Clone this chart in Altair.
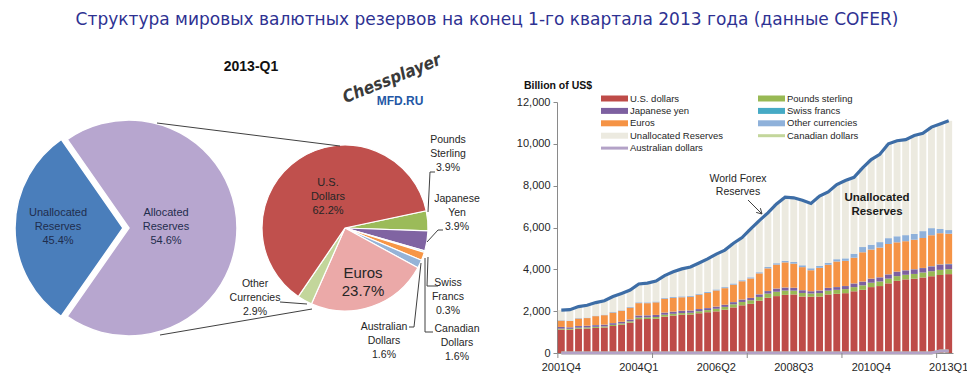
import math
import altair as alt
import pandas as pd

# ---------------- data ----------------
quarters = []
for yr in range(2001, 2014):
    for qq in range(1, 5):
        if (2001, 4) <= (yr, qq) <= (2013, 1):
            quarters.append(f"{yr}Q{qq}")

tick_labels = ["2001Q4", "2004Q1", "2006Q2", "2008Q3", "2010Q4", "2013Q1"]

total = [2050, 2070, 2220, 2280, 2410, 2500, 2700, 2850, 3010, 3300, 3340, 3440,
         3700, 3880, 4020, 4110, 4300, 4500, 4730, 4920, 5250, 5520, 5930, 6330,
         6700, 7130, 7450, 7420, 7300, 7150, 7500, 7700, 8050, 8250, 8400, 8850,
         9250, 9500, 10000, 10150, 10200, 10400, 10500, 10800, 10950, 11100]
usd = [1120, 1110, 1160, 1170, 1200, 1220, 1290, 1350, 1450, 1620, 1625, 1640,
       1740, 1790, 1830, 1840, 1900, 1950, 1990, 2070, 2180, 2280, 2350, 2500,
       2640, 2720, 2780, 2800, 2700, 2690, 2700, 2800, 2830, 2860, 2950, 3020,
       3150, 3200, 3330, 3450, 3520, 3550, 3610, 3670, 3730, 3770]
gbp = [43, 44, 50, 52, 51, 50, 55, 58, 64, 75, 78, 80, 90, 85, 80, 85, 95, 100,
       125, 135, 150, 160, 170, 180, 200, 210, 205, 180, 170, 150, 165, 180, 190,
       195, 200, 215, 210, 220, 225, 225, 220, 230, 240, 240, 245, 237]
jpy = [79, 72, 78, 76, 79, 83, 80, 85, 87, 95, 95, 98, 100, 100, 110, 105, 105,
       95, 100, 100, 100, 115, 110, 120, 120, 145, 140, 135, 130, 110, 120, 130,
       130, 145, 170, 175, 190, 195, 200, 210, 210, 220, 210, 230, 250, 237]
chf = [5, 5, 5, 6, 7, 5, 5, 5, 4, 4, 4, 4, 4, 4, 4, 4, 4, 5, 5, 5, 5, 5, 5, 7,
       7, 8, 8, 6, 5, 6, 6, 6, 5, 5, 6, 6, 7, 6, 6, 6, 5, 6, 7, 10, 12, 18]
eur = [301, 300, 355, 365, 425, 450, 500, 520, 560, 590, 580, 600, 660, 650, 640,
       650, 680, 720, 770, 790, 830, 870, 930, 1000, 1080, 1140, 1200, 1150, 1100,
       1000, 1080, 1100, 1220, 1200, 1230, 1400, 1390, 1420, 1450, 1400, 1390,
       1410, 1430, 1480, 1490, 1440]
other = [22, 20, 23, 23, 25, 27, 30, 30, 38, 40, 40, 40, 45, 45, 45, 45, 50, 55,
         50, 50, 60, 50, 55, 55, 65, 70, 75, 80, 90, 100, 90, 100, 110, 120, 190,
         250, 230, 260, 280, 290, 290, 280, 330, 340, 200, 176]
cad = [0, 0, 0, 0, 0, 0, 0, 0, 0, 0, 0, 0, 0, 0, 0, 0, 0, 0, 0, 0, 0, 0, 0, 0,
       0, 0, 0, 0, 0, 0, 0, 0, 0, 0, 0, 0, 0, 0, 0, 0, 0, 0, 0, 0, 95, 97]
aud = [0, 0, 0, 0, 0, 0, 0, 0, 0, 0, 0, 0, 0, 0, 0, 0, 0, 0, 0, 0, 0, 0, 0, 0,
       0, 0, 0, 0, 0, 0, 0, 0, 0, 0, 0, 0, 0, 0, 0, 0, 0, 0, 0, 0, 90, 97]

big_parts = ["Unallocated Reserves", "Allocated Reserves"]
big_values = [45.4, 54.6]

small_parts = ["Pounds Sterling", "Japanese Yen", "Swiss Francs", "Canadian Dollars",
               "Australian Dollars", "Euros", "Other Currencies", "U.S. Dollars"]
small_values = [3.9, 3.9, 0.3, 1.6, 1.6, 23.7, 2.9, 62.2]

# ---------------- styling ----------------
series = ["U.S. dollars", "Pounds sterling", "Japanese yen", "Swiss francs",
          "Euros", "Other currencies", "Unallocated Reserves"]
series_colors = ["#BE4B48", "#98B954", "#7D60A0", "#46AAC5", "#F59345", "#8FB1DA", "#ECEAE0"]
big_colors = ["#4A7EBB", "#B7A6CF"]
small_colors = ["#9BBB59", "#8064A2", "#4BACC6", "#F79646", "#95B3D7", "#EBA9A8", "#C3D69B", "#C0504D"]

LS = "Liberation Sans"
OX, OY = 557, 102          # page position of the bar plot origin
W, H = 396, 251


def px(x):
    return x - OX


def py(y):
    return y - OY


one = pd.DataFrame({"k": [0]})


def text(s, x, y, size=11, weight="normal", color="#262626", font=LS, angle=0, style="normal"):
    return alt.Chart(one).mark_text(
        text=s, fontSize=size, fontWeight=weight, color=color, font=font,
        align="center", baseline="middle", angle=angle, fontStyle=style,
    ).encode(x=alt.value(px(x)), y=alt.value(py(y)))


def mtext(lines, x, y0, dy=14, **kw):
    return [text(s, x, y0 + i * dy, **kw) for i, s in enumerate(lines)]


def seg(x1, y1, x2, y2, color="#404040", w=1):
    return alt.Chart(one).mark_rule(color=color, strokeWidth=w).encode(
        x=alt.value(px(x1)), y=alt.value(py(y1)),
        x2=alt.value(px(x2)), y2=alt.value(py(y2)))


def poly(pts, **kw):
    return [seg(pts[i][0], pts[i][1], pts[i + 1][0], pts[i + 1][1], **kw) for i in range(len(pts) - 1)]


def box(x1, y1, x2, y2, color):
    return alt.Chart(one).mark_rect(color=color).encode(
        x=alt.value(px(x1)), y=alt.value(py(y1)),
        x2=alt.value(px(x2)), y2=alt.value(py(y2)))


# ---------------- bar chart ----------------
rows = []
vals = [usd, gbp, jpy, chf, eur, other]
for i, q in enumerate(quarters):
    alloc = 0
    for k, name in enumerate(series[:-1]):
        rows.append({"q": q, "series": name, "value": vals[k][i], "ord": k})
        alloc += vals[k][i]
    rows.append({"q": q, "series": series[-1], "value": total[i] - alloc, "ord": 6})
bars_df = pd.DataFrame(rows)
line_df = pd.DataFrame({"q": quarters, "total": total, "cad": cad, "aud": aud})

xaxis = alt.Axis(values=tick_labels, labelAngle=0, title=None,
                 domainColor="#8A8A8A", tickColor="transparent", tickSize=5,
                 labelPadding=3, labelFont=LS, labelFontSize=11, labelColor="#262626")
yaxis = alt.Axis(values=list(range(0, 12001, 2000)), labelExpr="format(datum.value, ',')",
                 title=None, grid=False,
                 domainColor="#8A8A8A", tickColor="#8A8A8A", tickSize=4, labelPadding=3,
                 labelFont=LS, labelFontSize=11, labelColor="#262626")
xscale = alt.Scale(paddingInner=0.2, paddingOuter=0.1)
yscale = alt.Scale(domain=[0, 12000], nice=False)


def X(**kw):
    return alt.X("q:N", sort=quarters, scale=xscale, axis=xaxis, **kw)


def Y(field, **kw):
    return alt.Y(field, scale=yscale, axis=yaxis, **kw)


bars = alt.Chart(bars_df).mark_bar().encode(
    x=X(),
    y=Y("value:Q", stack="zero"),
    color=alt.Color("series:N", scale=alt.Scale(domain=series, range=series_colors), legend=None),
    order=alt.Order("ord:Q", sort="ascending"),
)
cad_line = alt.Chart(line_df).mark_line(color="#C3D69B", strokeWidth=3).encode(x=X(), y=Y("cad:Q"))
aud_line = alt.Chart(line_df).mark_line(color="#B3A2C7", strokeWidth=3).encode(x=X(), y=Y("aud:Q"))
total_line = alt.Chart(line_df).mark_line(color="#3D6DA6", strokeWidth=3.2).encode(x=X(), y=Y("total:Q"))

tick_df = pd.DataFrame({"q": [quarters[i] for i in range(0, len(quarters), 11)]})
xticks = alt.Chart(tick_df).mark_rule(color="#8A8A8A").encode(
    x=X(bandPosition=0), y=alt.value(H), y2=alt.value(H + 5))

# legend (manual, two columns)
leg = []
leg_names = ["U.S. dollars", "Pounds sterling", "Japanese yen", "Swiss francs", "Euros",
             "Other currencies", "Unallocated Reserves", "Canadian dollars", "Australian dollars"]
leg_cols = ["#BE4B48", "#98B954", "#7D60A0", "#46AAC5", "#F59345", "#8FB1DA", "#ECEAE0",
            "#C3D69B", "#B3A2C7"]
for i, (nm, cl) in enumerate(zip(leg_names, leg_cols)):
    col, row = i % 2, i // 2
    x0 = 601 + col * 157
    yc = 98.5 + row * 12.4
    hh = 1.5 if nm in ("Canadian dollars", "Australian dollars") else 3
    leg.append(box(x0, yc - hh, x0 + 27, yc + hh, cl))
    leg.append(alt.Chart(one).mark_text(text=nm, fontSize=9.5, font=LS, color="#262626",
                                        align="left", baseline="middle").encode(
        x=alt.value(px(x0 + 29)), y=alt.value(py(yc))))

# ---------------- pies ----------------
big_df = pd.DataFrame({"part": big_parts, "value": big_values, "ord": [0, 1]})
a0 = math.radians(215)


def big_layer(part, cx):
    return alt.Chart(big_df).transform_stack(
        stack="value", groupby=[], as_=["v0", "v1"], sort=[alt.SortField("ord", order="ascending")]
    ).transform_filter(alt.datum.part == part).mark_arc(
        radius=108, stroke="white", strokeWidth=1.5
    ).encode(
        theta=alt.Theta("v0:Q", scale=alt.Scale(type="pow", exponent=1.5, domain=[0, 100],
                                                 range=[a0, a0 + 2 * math.pi])),
        theta2="v1:Q",
        color=alt.Color("part:N", scale=alt.Scale(domain=big_parts, range=big_colors), legend=None),
        x=alt.value(px(cx)), y=alt.value(py(228)),
    )


small_df = pd.DataFrame({"part": small_parts, "value": small_values, "ord": list(range(8))})
b0 = math.radians(78)
small_pie = alt.Chart(small_df).transform_stack(
    stack="value", groupby=[], as_=["v0", "v1"], sort=[alt.SortField("ord", order="ascending")]
).mark_arc(radius=83, stroke="white", strokeWidth=1.2).encode(
    theta=alt.Theta("v0:Q", scale=alt.Scale(domain=[0, 100.1], range=[b0, b0 + 2 * math.pi])),
    theta2="v1:Q",
    color=alt.Color("part:N", scale=alt.Scale(domain=small_parts, range=small_colors), legend=None),
    x=alt.value(px(345)), y=alt.value(py(228)),
)

layers = [bars, cad_line, aud_line, total_line, xticks]
layers += leg
layers += [big_layer("Allocated Reserves", 129), big_layer("Unallocated Reserves", 123), small_pie]

# connector lines between pies
layers += [seg(157, 123, 340, 146), seg(160, 335, 312, 309)]
# leader lines
layers += poly([(435, 172), (430, 172), (428, 212)])
layers += poly([(443, 230), (438, 230), (427, 242)])
layers += poly([(428, 257), (427, 286), (438, 286)])
layers += poly([(425, 258), (425, 332), (433, 332)])
layers += poly([(421, 263), (414, 327), (409, 327)])
layers += poly([(280, 302), (307, 304)])

# pie labels
navy = "#1F2D4D"
layers += mtext(["Unallocated", "Reserves", "45.4%"], 58, 213, dy=14, color=navy)
layers += mtext(["Allocated", "Reserves", "54.6%"], 166, 213, dy=14, color=navy)
layers += mtext(["U.S.", "Dollars", "62.2%"], 328, 183, dy=14)
layers += mtext(["Euros", "23.7%"], 363, 273, dy=18, size=15)
layers += mtext(["Pounds", "Sterling", "3.9%"], 448, 140, dy=14, size=10.5)
layers += mtext(["Japanese", "Yen", "3.9%"], 457, 199, dy=14, size=10.5)
layers += mtext(["Swiss", "Francs", "0.3%"], 448, 283, dy=14, size=10.5)
layers += mtext(["Canadian", "Dollars", "1.6%"], 457, 329, dy=14, size=10.5)
layers += mtext(["Australian", "Dollars", "1.6%"], 384, 327, dy=14, size=10.5)
layers += mtext(["Other", "Currencies", "2.9%"], 255, 284, dy=14, size=10.5)
layers.append(text("2013-Q1", 251, 67, size=14, weight="bold", color="#111111"))
# logo
layers.append(text("Chessplayer", 392, 79, size=17, weight="bold", color="#3A3A3A",
                   font="DejaVu Sans Condensed", angle=338, style="italic"))
layers.append(text("MFD.RU", 400, 101, size=12, weight="bold", color="#2457A5"))

# bar chart annotations
layers.append(text("Billion of US$", 558, 86, size=10.5, weight="bold", color="#111111"))
layers += mtext(["World Forex", "Reserves"], 738, 179, dy=13, size=10.5)
layers += [seg(748, 200, 762, 214), seg(762, 214, 756.2, 212.4), seg(762, 214, 760.4, 208.2)]
layers += mtext(["Unallocated", "Reserves"], 877, 198, dy=13.5, size=11.5, weight="bold", color="#1A1A1A")

# main title
layers.append(text("Структура мировых валютных резервов на конец 1-го квартала 2013 года (данные COFER)",
                   487, 20, size=17, color="#2E3192", font="DejaVu Sans"))

chart = alt.layer(*layers).resolve_scale(
    color="independent", theta="independent"
).properties(
    width=W, height=H,
    autosize=alt.AutoSizeParams(type="none"),
    padding={"left": OX - 8, "top": OY - 8, "right": 975 - 16 - (OX - 8) - W, "bottom": 387 - 16 - (OY - 8) - H},
).configure_view(stroke=None)

chart.save("out.html", embed_options={"renderer": "svg", "actions": False})
